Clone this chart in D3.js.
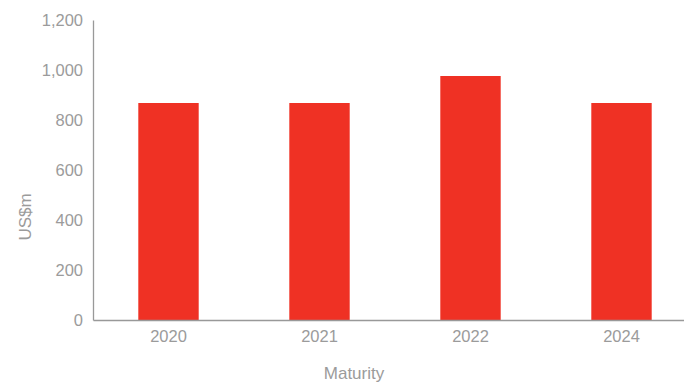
<!DOCTYPE html>
<html>
<head>
<meta charset="utf-8">
<script src="https://cdn.jsdelivr.net/npm/d3@7"></script>
<style>
  body { margin: 0; background: #fff; }
  text { font-family: "Liberation Sans", Arial, sans-serif; fill: #9b9b9b; }
</style>
</head>
<body>
<div id="chart"></div>
<script>
// data
var years = ["2020", "2021", "2022", "2024"]
var amounts = [868, 868, 976, 868]
var yTicks = [0, 200, 400, 600, 800, 1000, 1200]

var width = 684
var height = 383
var margin = { top: 20, left: 93, right: -13, bottom: 63 }

var svg = d3.select("#chart")
  .append("svg")
  .attr("width", width)
  .attr("height", height)

var innerW = width - margin.left - margin.right
var innerH = height - margin.top - margin.bottom

var g = svg.append("g")
  .attr("transform", "translate(" + margin.left + "," + margin.top + ")")

//scales
var x = d3.scaleBand()
  .domain(years)
  .range([0, innerW])
  .paddingInner(0.6)
  .paddingOuter(0.3)

var y = d3.scaleLinear()
  .domain([0, 1200])
  .range([innerH, 0])

//bars
g.selectAll(".bar")
  .data(amounts)
  .enter()
  .append("rect")
  .attr("class", "bar")
  .attr("x", function(d, i) { return x(years[i]) })
  .attr("width", x.bandwidth())
  .attr("y", function(d) { return y(d) })
  .attr("height", function(d) { return y(0) - y(d) })
  .attr("fill", "#ef3124")

//y axis
var yAxis = g.append("g")
  .call(d3.axisLeft(y).tickValues(yTicks).tickSize(0).tickPadding(10)
    .tickFormat(d3.format(",")))
yAxis.select(".domain").attr("stroke", "#999").attr("stroke-width", 1.3)
yAxis.selectAll("text").style("font-size", "16.5px").attr("fill", "#9b9b9b")

//x axis
var xAxis = g.append("g")
  .attr("transform", "translate(0," + innerH + ")")
  .call(d3.axisBottom(x).tickSize(0).tickPadding(10))
xAxis.select(".domain").attr("stroke", "#999").attr("stroke-width", 1.3)
xAxis.selectAll("text").style("font-size", "16.5px").attr("fill", "#9b9b9b")

//axis titles
svg.append("text")
  .attr("transform", "translate(31,217) rotate(-90)")
  .attr("text-anchor", "middle")
  .style("font-size", "17px")
  .text("US$m")

svg.append("text")
  .attr("x", 354)
  .attr("y", 379)
  .attr("text-anchor", "middle")
  .style("font-size", "17px")
  .text("Maturity")
</script>
</body>
</html>
